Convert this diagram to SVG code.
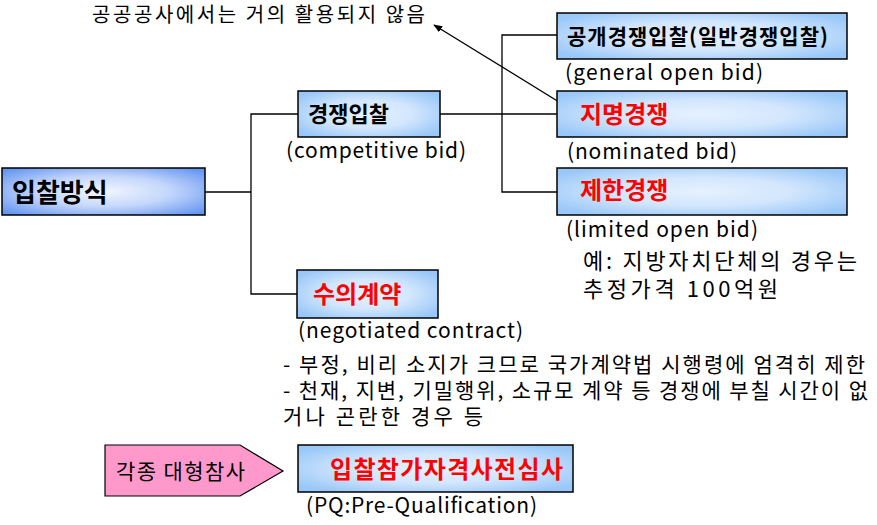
<svg xmlns="http://www.w3.org/2000/svg" width="877" height="525" viewBox="0 0 877 525">
<defs>
<radialGradient id="gBox" cx="0.5" cy="0.5" r="0.62">
<stop offset="0" stop-color="#e6f1ff"/>
<stop offset="0.5" stop-color="#d2e6fd"/>
<stop offset="1" stop-color="#98c7f8"/>
</radialGradient>
<radialGradient id="gMain" cx="0.5" cy="0.5" r="0.66">
<stop offset="0" stop-color="#f2f6ff"/>
<stop offset="0.5" stop-color="#c3d6fb"/>
<stop offset="1" stop-color="#6595f1"/>
</radialGradient>
<marker id="ah" viewBox="0 0 10 10" refX="9" refY="5" markerWidth="9" markerHeight="9" orient="auto" markerUnits="userSpaceOnUse">
<path d="M0,1 L10,5 L0,9 z" fill="#000"/>
</marker>
</defs>
<style>
.box{fill:url(#gBox);stroke:#000;stroke-width:1.5}
.main{fill:url(#gMain);stroke:#000;stroke-width:1.5}
.t{font-family:"Noto Sans CJK KR","Noto Sans",sans-serif;fill:#000}
.b{font-weight:bold}
.red{fill:#ff0000;font-weight:bold}
.con{fill:none;stroke:#000;stroke-width:1.3}
</style>

<g id="connectors">
<polyline class="con" points="205,192 251,192"/>
<polyline class="con" points="298,114 251,114 251,294 297,294"/>
<polyline class="con" points="440,114 557,114"/>
<polyline class="con" points="557,35 502,35 502,192 557,192"/>
<line class="con" x1="572" y1="110" x2="434" y2="25" stroke-width="1.1" marker-end="url(#ah)"/>
</g>

<g id="note-top">
<text class="t" x="92" y="22" font-size="20" textLength="333" lengthAdjust="spacing">공공공사에서는 거의 활용되지 않음</text>
</g>

<g id="node-ipchal">
<rect class="main" x="2" y="168" width="203" height="47"/>
<text class="t b" x="12" y="202" font-size="26">입찰방식</text>
</g>

<g id="node-competitive">
<rect class="box" x="298" y="91" width="142" height="46"/>
<text class="t b" x="308" y="122" font-size="22">경쟁입찰</text>
<text class="t" x="286" y="158" font-size="21" textLength="180" lengthAdjust="spacing">(competitive bid)</text>
</g>

<g id="node-general">
<rect class="box" x="557" y="13" width="290" height="46"/>
<text class="t b" x="567" y="44" font-size="21" textLength="261" lengthAdjust="spacing">공개경쟁입찰(일반경쟁입찰)</text>
<text class="t" x="565" y="80" font-size="21" textLength="198" lengthAdjust="spacing">(general open bid)</text>
</g>

<g id="node-nominated">
<rect class="box" x="557" y="91" width="290" height="46"/>
<text class="t red" x="580" y="123" font-size="24">지명경쟁</text>
<text class="t" x="567" y="159" font-size="21" textLength="170" lengthAdjust="spacing">(nominated bid)</text>
</g>

<g id="node-limited">
<rect class="box" x="557" y="168" width="290" height="47"/>
<text class="t red" x="580" y="199" font-size="24">제한경쟁</text>
<text class="t" x="566" y="237" font-size="21" textLength="192" lengthAdjust="spacing">(limited open bid)</text>
<text class="t" x="583" y="269" font-size="22" textLength="274" lengthAdjust="spacing">예: 지방자치단체의 경우는</text>
<text class="t" x="583" y="297" font-size="22" textLength="195" lengthAdjust="spacing">추정가격 100억원</text>
</g>

<g id="node-negotiated">
<rect class="box" x="297" y="270" width="141" height="48"/>
<text class="t red" x="313" y="303" font-size="24">수의계약</text>
<text class="t" x="298" y="338" font-size="21" textLength="225" lengthAdjust="spacing">(negotiated contract)</text>
<text class="t" x="283" y="372" font-size="21" textLength="582" lengthAdjust="spacing">- 부정, 비리 소지가 크므로 국가계약법 시행령에 엄격히 제한</text>
<text class="t" x="283" y="398" font-size="21" textLength="585" lengthAdjust="spacing">- 천재, 지변, 기밀행위, 소규모 계약 등 경쟁에 부칠 시간이 없</text>
<text class="t" x="283" y="424" font-size="21" textLength="200" lengthAdjust="spacing">거나 곤란한 경우 등</text>
</g>

<g id="node-disaster">
<polygon points="105,445 240,445 283,471 240,496 105,496" fill="#ff99cc" stroke="#000" stroke-width="1.2"/>
<text class="t" x="116" y="479" font-size="21" textLength="129" lengthAdjust="spacing">각종 대형참사</text>
</g>

<g id="node-pq">
<rect class="box" x="298" y="445" width="275" height="47"/>
<text class="t red" x="330" y="478" font-size="24" textLength="233" lengthAdjust="spacing">입찰참가자격사전심사</text>
<text class="t" x="306" y="513" font-size="21" textLength="231" lengthAdjust="spacing">(PQ:Pre-Qualification)</text>
</g>
</svg>
